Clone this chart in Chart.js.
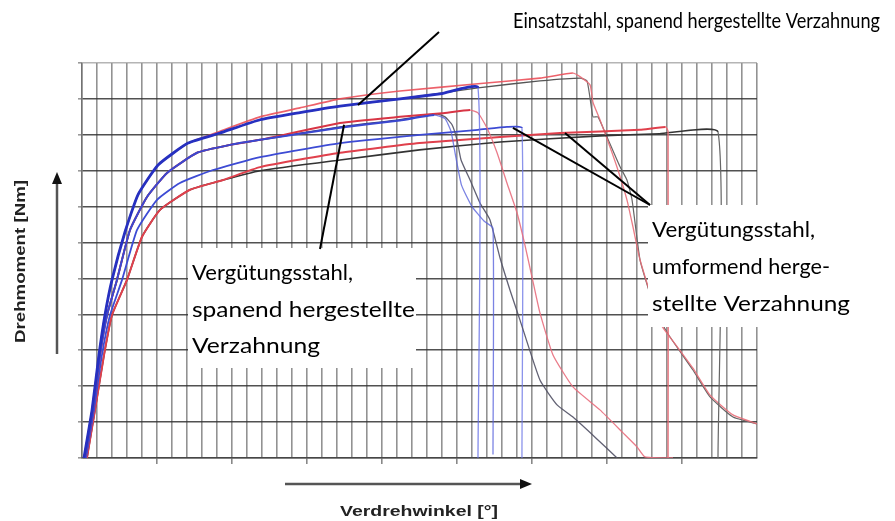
<!DOCTYPE html>
<html>
<head>
<meta charset="utf-8">
<script src="https://cdn.jsdelivr.net/npm/chart.js@4"></script>
<style>
  body { margin: 0; background: #fff; }
  canvas { display: block; }
</style>
</head>
<body>
<canvas id="c" width="895" height="521"></canvas>
<script>
// x = Verdrehwinkel, y = Drehmoment (both in grid units, no tick labels in the original)
const riseEinsatz = [[0.13,0],[0.67,1.34],[1.13,2.87],[1.53,3.98],[2.0,4.96],[2.87,6.30],[3.73,7.33],[5.07,8.16],[7.07,8.77]];
const riseSpanend = [[0.2,0],[0.73,1.34],[1.2,2.87],[1.67,3.98],[2.33,4.96],[3.2,6.35],[4.33,7.27],[5.67,7.94],[7.67,8.5],[9.87,8.72],[11.87,8.86]];
const riseUmform = [[0.33,0],[0.87,1.34],[1.47,2.87],[2.0,3.98],[3.0,4.96],[4.0,6.16],[5.2,6.91],[7.2,7.47],[9.4,7.74]];

const einsatzRot = [[9.2,9.1],[11.87,9.5],[14.53,9.75],[17.2,10.0],[21.2,10.22],[26.4,10.42],[30.53,10.58],[32.73,10.72],[33.2,10.62],[33.87,10.39],[34.07,9.9],[34.53,9.42],[35.2,8.66],[35.73,8.02],[36.33,7.19],[36.73,6.44],[37.2,5.52],[38.53,3.76],[39.5,3.2],[40.73,2.5],[41.87,1.75],[43.4,1.2],[45,0.95]];
const einsatzGrau = [[9.2,9.05],[11.87,9.42],[14.53,9.62],[17.2,9.8],[21.2,10.0],[26.4,10.31],[30.53,10.5],[33.2,10.58],[33.67,10.5],[34.0,9.64],[34.07,9.5],[34.4,9.5],[35.0,8.94],[35.87,8.11],[36.33,7.74],[36.67,7.19],[37.2,5.52],[38.0,4.4],[38.6,3.8],[39.2,3.37],[40.73,2.45],[41.87,1.7],[43.4,1.14],[45,0.95]];
const einsatzBlau = [[9.2,9.05],[11.87,9.42],[14.53,9.62],[17.2,9.8],[21.2,10.0],[24,10.15],[26.4,10.31],[26.4,0]];

const spanendRot = [[17.2,9.33],[21.2,9.5],[24,9.6],[25.87,9.69],[26.4,9.61],[27.0,9.19],[27.67,8.5],[28.33,7.66],[29.0,6.83],[29.53,5.93],[30.0,5.04],[30.53,4.04],[31.4,2.87],[32.73,1.98],[34.53,1.34],[36.07,0.7],[37.0,0.31],[37.53,0.03],[39.4,0]];
const spanendGrau = [[17.2,9.22],[21.2,9.42],[23.67,9.58],[24.2,9.5],[24.67,9.28],[25.0,8.86],[25.27,8.3],[25.87,7.74],[26.53,7.1],[27.2,6.63],[27.87,5.57],[28.53,4.68],[29.2,3.84],[30.53,2.17],[31.67,1.48],[32.73,1.14],[34.2,0.58],[35.67,0]];
const spanendBlau = [[17.2,9.2],[21.2,9.4],[23.5,9.55],[24.2,9.45],[24.6,9.1],[24.87,8.5],[25.3,7.6],[26.0,7.0],[26.8,6.6],[27.4,6.4],[27.4,0.1]];

const umformBlau = [[0.27,0],[0.8,1.34],[1.33,2.87],[1.87,3.98],[2.67,4.96],[3.67,6.35],[5.0,7.19],[6.53,7.66],[8.73,8.02],[11.87,8.38],[17.2,8.77],[22.53,9.0],[26.4,9.14],[28.33,9.22],[29.33,9.19],[29.33,0]];
const umformRot = [[11.87,8.1],[17.2,8.5],[22.5,8.77],[27.87,8.94],[31.87,9.05],[37.2,9.14],[38.9,9.22],[39.07,9.1],[39.07,0]];
const umformGrau = [[11.87,8.0],[17.2,8.3],[22.5,8.58],[27.87,8.8],[34.53,8.97],[38.5,9.03],[42.4,9.08],[42.4,0]];

const xMax = 45, yMax = 11;

const pts = arr => arr.map(p => ({ x: p[0], y: p[1] }));

// plateau part drawn heavier, drop part thin & light
function series(data, peak, col, w, tailCol, tailW) {
  return {
    data: pts(data),
    borderColor: col,
    borderWidth: w,
    pointRadius: 0,
    showLine: true,
    tension: 0.15,
    segment: {
      borderColor: s => s.p0.parsed.x >= peak ? tailCol : undefined,
      borderWidth: s => s.p0.parsed.x >= peak ? tailW : undefined
    }
  };
}

const datasets = [
  series(riseEinsatz.concat(einsatzBlau), 26.4, '#2630c0', 2.8, 'rgba(100,110,230,0.8)', 1.3),
  series(riseSpanend.concat(spanendBlau), 23.5, '#3a48d0', 2, 'rgba(90,100,220,0.8)', 1.3),
  series(riseSpanend.concat(spanendRot), 25.87, '#d83545', 2, 'rgba(232,110,125,0.9)', 1.3),
  series(riseSpanend.concat(spanendGrau), 23.67, '#3b3b78', 1.6, 'rgba(80,80,100,0.9)', 1.3),
  series(umformBlau, 29.33, '#3d4bd4', 1.8, 'rgba(110,120,230,0.8)', 1.3),
  series(riseUmform.concat(umformRot), 38.9, '#e0404c', 2, '#e86a74', 1.3),
  series(riseUmform.concat(umformGrau), 42.4, '#333', 1.6, '#666', 1.2),
  series(riseEinsatz.concat(einsatzRot), 32.73, 'rgba(235,80,90,0.9)', 1.6, 'rgba(232,110,120,0.9)', 1.3),
  series(riseEinsatz.concat(einsatzGrau), 33.2, '#555', 1.3, '#666', 1.2)
];

function fitText(c, txt, x, y, w) {
  const m = c.measureText(txt).width;
  c.save();
  c.translate(x, y);
  c.scale(w / m, 1);
  c.fillText(txt, 0, 0);
  c.restore();
}

function line(c, x1, y1, x2, y2) {
  c.beginPath(); c.moveTo(x1, y1); c.lineTo(x2, y2); c.stroke();
}

const annotations = {
  id: 'annotations',
  afterDraw(chart) {
    const c = chart.ctx;
    const sx = chart.scales.x, sy = chart.scales.y;
    const px = v => sx.getPixelForValue(v), py = v => sy.getPixelForValue(v);
    c.save();

    // white label boxes
    c.fillStyle = '#fff';
    c.fillRect(188, 248, 228, 120);
    c.fillRect(648, 205, 247, 122);

    // leader lines
    c.strokeStyle = '#000';
    c.lineWidth = 2;
    line(c, 439, 32, px(18.4), py(9.83));
    line(c, 320, 249, px(17.47), py(9.28));
    line(c, 650, 205, px(28.73), py(9.19));
    line(c, 650, 205, px(32.2), py(9.05));

    // label texts
    c.fillStyle = '#000';
    c.font = '22px Lato';
    c.textBaseline = 'alphabetic';
    fitText(c, 'Einsatzstahl, spanend hergestellte Verzahnung', 513, 28, 367);
    fitText(c, 'Vergütungsstahl,', 192, 280, 161);
    fitText(c, 'spanend hergestellte', 192, 317, 223);
    fitText(c, 'Verzahnung', 192, 353, 128);
    fitText(c, 'Vergütungsstahl,', 652, 237, 163);
    fitText(c, 'umformend herge-', 652, 274, 178);
    fitText(c, 'stellte Verzahnung', 652, 311, 198);

    // axis arrows
    c.strokeStyle = '#555';
    c.lineWidth = 2.5;
    line(c, 57, 354, 57, 182);
    line(c, 285, 484, 521, 484);
    c.fillStyle = '#111';
    c.beginPath(); c.moveTo(57, 172); c.lineTo(52, 184); c.lineTo(62, 184); c.closePath(); c.fill();
    c.beginPath(); c.moveTo(532, 484); c.lineTo(520, 479); c.lineTo(520, 489); c.closePath(); c.fill();

    // axis titles
    c.fillStyle = '#222';
    c.font = 'bold 15px "Liberation Sans"';
    fitText(c, 'Verdrehwinkel [°]', 340, 516, 158);
    c.save();
    c.translate(25, 343);
    c.rotate(-Math.PI / 2);
    fitText(c, 'Drehmoment [Nm]', 0, 0, 163);
    c.restore();

    c.restore();
  }
};

new Chart(document.getElementById('c'), {
  type: 'scatter',
  data: { datasets: datasets },
  options: {
    responsive: false,
    animation: false,
    devicePixelRatio: 1,
    layout: { padding: { left: 78, top: 63, right: 138, bottom: 57 } },
    plugins: { legend: { display: false }, tooltip: { enabled: false } },
    scales: {
      x: {
        type: 'linear', min: 0, max: xMax,
        ticks: { display: false, stepSize: 1, autoSkip: false, maxTicksLimit: 100 },
        grid: {
          color: 'rgba(100,100,100,0.7)',
          lineWidth: 1.6,
          tickLength: 6,
          tickColor: ctx => (ctx.tick && ctx.tick.value % 5 === 0 && ctx.tick.value > 0 && ctx.tick.value < xMax) ? '#888' : 'rgba(0,0,0,0)'
        },
        border: { color: 'rgba(70,70,70,0.8)', width: 1.5 }
      },
      y: {
        type: 'linear', min: 0, max: yMax,
        ticks: { display: false, stepSize: 1, autoSkip: false, maxTicksLimit: 100 },
        grid: {
          color: ctx => (ctx.tick && ctx.tick.value === yMax) ? 'rgba(150,150,150,0.7)' : 'rgba(50,50,50,0.85)',
          lineWidth: 1.6,
          tickLength: 4,
          tickColor: '#999'
        },
        border: { color: 'rgba(100,100,100,0.7)', width: 1.5 }
      }
    }
  },
  plugins: [annotations]
});
</script>
</body>
</html>
